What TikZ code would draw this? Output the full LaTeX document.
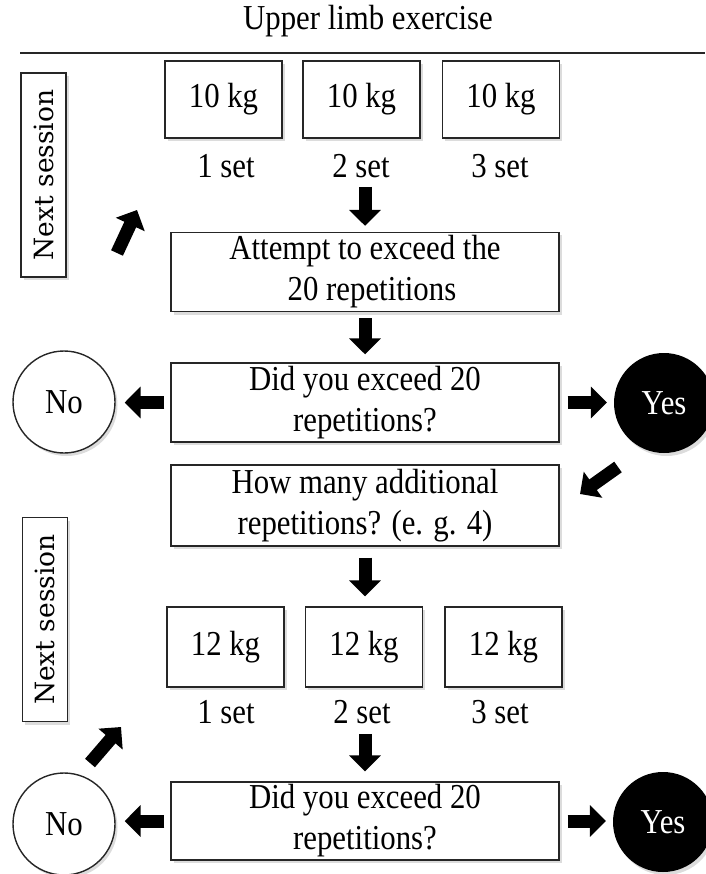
\documentclass[tikz,border=0pt]{standalone}
\usepackage{fontspec}
\setmainfont[FakeStretch=0.88]{Liberation Serif}
\newfontfamily\nsfont{DejaVu Serif}
\usetikzlibrary{arrows.meta,shadows}
\begin{document}
\begin{tikzpicture}[x=1pt,y=-1pt,
  txt/.style={font=\fontsize{35}{41}\selectfont},
  shad/.style={drop shadow={opacity=0.28,shadow xshift=2.5pt,shadow yshift=-3pt}},
  box/.style={draw=black!85, line width=1.4pt, fill=white, inner sep=0pt, shad},
  wbox/.style={box, txt, minimum width=117pt, minimum height=77pt},
  qbox/.style={box, txt, minimum width=388pt, minimum height=79pt, align=center},
  lbl/.style={txt, inner sep=0pt, minimum height=22pt},
  nsbox/.style={box, rotate=90, minimum width=204pt, minimum height=45pt, font=\nsfont\fontsize{26.5}{30}\selectfont},
  nocirc/.style={circle, txt, draw=black!85, line width=1.4pt, fill=white, minimum size=102pt, inner sep=0pt, shad},
  yescirc/.style={circle, txt, fill=black, text=white, minimum size=100pt, inner sep=0pt, shad},
  barrow/.style={line width=13pt, -{Triangle[length=16pt,width=31pt]}, black}
]
\useasboundingbox (0,0) rectangle (705,874);

% title and rule
\node[txt] (title) at (368,21) {Upper limb exercise};
\coordinate (l1) at (20,53);
\coordinate (l2) at (705,53);
\draw[line width=1.4pt, black!85] (l1) -- (l2);

% next-session labels
\node[nsbox] (ns1) at (43.5,175) {Next session};
\node[nsbox] (ns2) at (45,619.5) {Next session};

% first block
\node[wbox] (w1) at (223.5,99.5) {10 kg};
\node[wbox] (w2) at (361.5,99.5) {10 kg};
\node[wbox] (w3) at (501,99.5) {10 kg};
\node[lbl] (s1) at (226,166) {1 set};
\node[lbl] (s2) at (361,166) {2 set};
\node[lbl] (s3) at (500,166) {3 set};

\node[qbox] (att) at (365,272) {Attempt to exceed the\\ \hspace*{14pt}20 repetitions};
\node[qbox] (did1) at (365,402.5) {Did you exceed 20\\repetitions?};
\node[nocirc] (no1) at (64,402) {No};
\node[yescirc] (yes1) at (664,403) {Yes};
\node[qbox, minimum height=81pt] (how) at (365,505.5) {How many additional\\repetitions? (e. g. 4)};

% second block
\node[wbox, minimum height=80pt] (w4) at (225.5,647) {12 kg};
\node[wbox, minimum height=80pt] (w5) at (364,647) {12 kg};
\node[wbox, minimum height=80pt] (w6) at (503.5,647) {12 kg};
\node[lbl] (s4) at (226,712) {1 set};
\node[lbl] (s5) at (362,712) {2 set};
\node[lbl] (s6) at (500,712) {3 set};

\node[qbox, minimum height=78pt] (did2) at (365,821) {Did you exceed 20\\repetitions?};
\node[nocirc] (no2) at (64,824) {No};
\node[yescirc] (yes2) at (663,822) {Yes};

% free ends of the diagonal arrows
\coordinate (d1a) at (117,253);
\coordinate (d1b) at (137,210);
\coordinate (d2a) at (90,763);
\coordinate (d2b) at (121,727);
\coordinate (d3a) at (618,467);
\coordinate (d3b) at (580,494);

% arrows
\draw[barrow, shorten <=9pt, shorten >=6pt] (att.north |- s2.south) -- (att.north);
\draw[barrow, shorten <=6pt, shorten >=8pt] (att.south) -- (did1.north);
\draw[barrow, shorten <=6pt, shorten >=9pt] (did1.west) -- (did1.west -| no1.east);
\draw[barrow, shorten <=8pt, shorten >=7pt] (did1.east) -- (did1.east -| yes1.west);
\draw[barrow] (d3a) -- (d3b);
\draw[barrow] (d1a) -- (d1b);
\draw[barrow, shorten <=11pt, shorten >=10pt] (how.south) -- (how.south |- w5.north);
\draw[barrow, shorten <=10pt, shorten >=10pt] (did2.north |- s5.south) -- (did2.north);
\draw[barrow, shorten <=6pt, shorten >=9pt] (did2.west) -- (did2.west -| no2.east);
\draw[barrow, shorten <=8pt, shorten >=7pt] (did2.east) -- (did2.east -| yes2.west);
\draw[barrow] (d2a) -- (d2b);
\end{tikzpicture}
\end{document}
